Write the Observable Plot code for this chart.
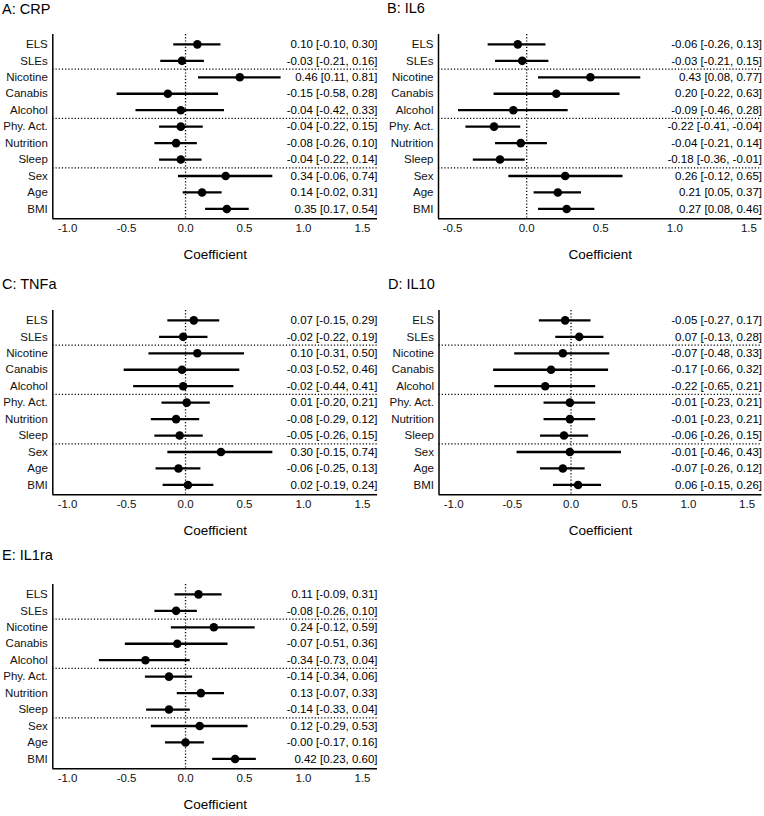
<!DOCTYPE html>
<html>
<head>
<meta charset="utf-8">
<script src="https://cdn.jsdelivr.net/npm/d3@7"></script>
<script src="https://cdn.jsdelivr.net/npm/@observablehq/plot@0.6"></script>
<style>
  body { margin: 0; background: #fff; font-family: "Liberation Sans", Arial, Helvetica, sans-serif; }
  #page { position: relative; width: 764px; height: 816px; overflow: hidden; background: #fff; }
  .panel { position: absolute; width: 382px; height: 275px; }
  .panel .title { position: absolute; font-size: 14.5px; line-height: 1; color: #000; white-space: nowrap; }
  .panel svg { position: absolute; left: 0; }
</style>
</head>
<body>
<div id="page"></div>
<script>
// Predictors, top to bottom
const categories = ["ELS", "SLEs", "Nicotine", "Canabis", "Alcohol", "Phy. Act.", "Nutrition", "Sleep", "Sex", "Age", "BMI"];
// Last predictor of each group (a dotted separator follows it)
const groupEnds = ["SLEs", "Alcohol", "Sleep"];

// Panel titles
const titles = ["A: CRP", "B: IL6", "C: TNFa", "D: IL10", "E: IL1ra"];

// Coefficients with 95% CI
const crpEst  = [0.10, -0.03, 0.46, -0.15, -0.04, -0.04, -0.08, -0.04, 0.34, 0.14, 0.35];
const crpLow  = [-0.10, -0.21, 0.11, -0.58, -0.42, -0.22, -0.26, -0.22, -0.06, -0.02, 0.17];
const crpHigh = [0.30, 0.16, 0.81, 0.28, 0.33, 0.15, 0.10, 0.14, 0.74, 0.31, 0.54];

const il6Est  = [-0.06, -0.03, 0.43, 0.20, -0.09, -0.22, -0.04, -0.18, 0.26, 0.21, 0.27];
const il6Low  = [-0.26, -0.21, 0.08, -0.22, -0.46, -0.41, -0.21, -0.36, -0.12, 0.05, 0.08];
const il6High = [0.13, 0.15, 0.77, 0.63, 0.28, -0.04, 0.14, -0.01, 0.65, 0.37, 0.46];

const tnfEst  = [0.07, -0.02, 0.10, -0.03, -0.02, 0.01, -0.08, -0.05, 0.30, -0.06, 0.02];
const tnfLow  = [-0.15, -0.22, -0.31, -0.52, -0.44, -0.20, -0.29, -0.26, -0.15, -0.25, -0.19];
const tnfHigh = [0.29, 0.19, 0.50, 0.46, 0.41, 0.21, 0.12, 0.15, 0.74, 0.13, 0.24];

const il10Est  = [-0.05, 0.07, -0.07, -0.17, -0.22, -0.01, -0.01, -0.06, -0.01, -0.07, 0.06];
const il10Low  = [-0.27, -0.13, -0.48, -0.66, -0.65, -0.23, -0.23, -0.26, -0.46, -0.26, -0.15];
const il10High = [0.17, 0.28, 0.33, 0.32, 0.21, 0.21, 0.21, 0.15, 0.43, 0.12, 0.26];

const il1raEst  = [0.11, -0.08, 0.24, -0.07, -0.34, -0.14, 0.13, -0.14, 0.12, -0.00, 0.42];
const il1raLow  = [-0.09, -0.26, -0.12, -0.51, -0.73, -0.34, -0.07, -0.33, -0.29, -0.17, 0.23];
const il1raHigh = [0.31, 0.10, 0.59, 0.36, 0.04, 0.06, 0.33, 0.04, 0.53, 0.16, 0.60];

const wideTicks = [-1.0, -0.5, 0.0, 0.5, 1.0, 1.5];
const narrowTicks = [-0.5, 0.0, 0.5, 1.0, 1.5];

// two-decimal format that keeps the sign of a rounded negative zero
const fmt2 = v => ((v < 0 || Object.is(v, -0)) ? "-" : "") + Math.abs(v).toFixed(2);
const fmt1 = v => ((v < 0) ? "-" : "") + Math.abs(v).toFixed(1);

const FONT = '"Liberation Sans", Arial, Helvetica, sans-serif';
const INK = "#000";

function forest(cfg) {
  const {title, est, low, high, xDomain, xTicks, left, top, marginLeft, marginRight, titleLeft} = cfg;
  const rows = categories.map((name, i) => ({
    i, name, est: est[i], low: low[i], high: high[i],
    label: `${fmt2(est[i])} [${fmt2(low[i])}, ${fmt2(high[i])}]`
  }));
  const breaks = groupEnds.map(n => categories.indexOf(n) + 0.5);
  const yDomain = [categories.length - 1 + 0.6, -0.6];

  const chart = Plot.plot({
    width: 382,
    height: 250,
    marginTop: 10,
    marginBottom: 55.7,
    marginLeft,
    marginRight,
    style: {fontFamily: FONT, fontSize: "11.5px", color: "#111", background: "transparent", overflow: "visible"},
    x: {domain: xDomain, axis: null},
    y: {domain: yDomain, axis: null},
    marks: [
      // group separators and the zero reference
      Plot.ruleY(breaks, {stroke: INK, strokeWidth: 1.3, strokeDasharray: "1.2,2"}),
      Plot.ruleX([0], {stroke: INK, strokeWidth: 1.3, strokeDasharray: "1.2,2"}),
      // axis lines
      Plot.ruleX([xDomain[0]], {stroke: INK, strokeWidth: 1.5}),
      Plot.ruleY([yDomain[0]], {stroke: INK, strokeWidth: 1.5}),
      Plot.axisX({ticks: xTicks, tickFormat: fmt1, tickSize: 0, tickPadding: 5.5, label: null, fontSize: 11.5}),
      Plot.axisY({ticks: d3.range(categories.length), tickFormat: i => categories[i], tickSize: 0, tickPadding: 5, label: null, fontSize: 11.5}),
      // confidence intervals and estimates
      Plot.ruleY(rows, {y: "i", x1: "low", x2: "high", stroke: "#000", strokeWidth: 2.3}),
      Plot.dot(rows, {x: "est", y: "i", r: 4.3, fill: "#000", stroke: "none"}),
      // estimate [CI] text at the right edge
      Plot.text(rows, {y: "i", text: "label", frameAnchor: "right", textAnchor: "end", fontSize: 11.5, fill: "#000"}),
      // x axis title
      Plot.text(["Coefficient"], {frameAnchor: "bottom", dy: 40.5, fontSize: 13.5, fill: "#000"})
    ]
  });

  const panel = document.createElement("div");
  panel.className = "panel";
  panel.style.left = left + "px";
  panel.style.top = top + "px";
  const t = document.createElement("div");
  t.className = "title";
  t.textContent = title;
  t.style.left = titleLeft + "px";
  t.style.top = cfg.titleTop + "px";
  panel.appendChild(t);
  chart.style.top = cfg.svgTop + "px";
  panel.appendChild(chart);
  document.getElementById("page").appendChild(panel);
}

const wide = [-1.125, 1.627];
const narrow = [-0.595, 1.588];

forest({title: titles[0], est: crpEst, low: crpLow, high: crpHigh, xDomain: wide, xTicks: wideTicks,
        left: 0, top: 0, marginLeft: 52.3, marginRight: 5, titleLeft: 2, titleTop: 1.5, svgTop: 24});
forest({title: titles[1], est: il6Est, low: il6Low, high: il6High, xDomain: narrow, xTicks: narrowTicks,
        left: 382, top: 0, marginLeft: 56, marginRight: 2.5, titleLeft: 5, titleTop: 1, svgTop: 24});
forest({title: titles[2], est: tnfEst, low: tnfLow, high: tnfHigh, xDomain: wide, xTicks: wideTicks,
        left: 0, top: 276, marginLeft: 52.3, marginRight: 5, titleLeft: 2, titleTop: 0.5, svgTop: 24});
forest({title: titles[3], est: il10Est, low: il10Low, high: il10High, xDomain: wide, xTicks: wideTicks,
        left: 382, top: 276, marginLeft: 56.5, marginRight: 2.5, titleLeft: 6, titleTop: 0.5, svgTop: 24});
forest({title: titles[4], est: il1raEst, low: il1raLow, high: il1raHigh, xDomain: wide, xTicks: wideTicks,
        left: 0, top: 549.5, marginLeft: 52.3, marginRight: 5, titleLeft: 2, titleTop: -1.5, svgTop: 24});
</script>
</body>
</html>
